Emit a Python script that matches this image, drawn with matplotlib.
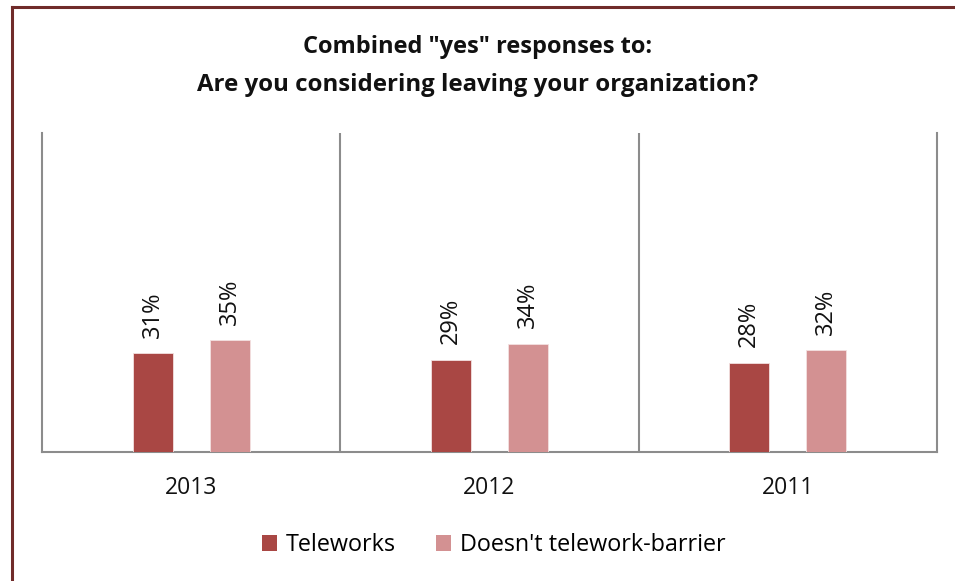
import matplotlib.pyplot as plt
from matplotlib.patches import Patch
from matplotlib.lines import Line2D
import numpy as np

plt.rcParams['font.family'] = ['Open Sans', 'DejaVu Sans']

years = ['2013', '2012', '2011']
series_names = ['Teleworks', "Doesn't telework-barrier"]
teleworks = [0.31, 0.29, 0.28]
no_telework = [0.35, 0.34, 0.32]
colors = ['#A94744', '#D39192']

fig = plt.figure(figsize=(9.55, 5.81), dpi=100)
ax = fig.add_axes([0.044, 0.222, 0.937, 0.549])

x = np.arange(len(years))
width = 0.134
offset = 0.129
for vals, sign, col in [(teleworks, -1, colors[0]), (no_telework, 1, colors[1])]:
    bars = ax.bar(x + sign * offset, vals, width, color=col,
                  edgecolor='#F3E1E0', linewidth=0.6, zorder=3)
    for b, v in zip(bars, vals):
        ax.annotate(f'{round(v * 100)}%', (b.get_x() + b.get_width() / 2, v),
                    xytext=(0, 11), textcoords='offset points',
                    rotation=90, ha='center', va='bottom', fontsize=17,
                    color='#111111')

ax.set_xlim(-0.5, len(years) - 0.5)
ax.set_ylim(0, 1.0)
ax.set_yticks([])
ax.set_xticks(x)
ax.set_xticklabels(years, fontsize=16.5)
ax.tick_params(axis='x', length=0, pad=17, colors='#111111')

grid_col = '#8C8C8C'
ax.spines['top'].set_visible(False)
for spine in ['left', 'right', 'bottom']:
    ax.spines[spine].set_color(grid_col)
    ax.spines[spine].set_linewidth(1.5)
for xv in x[:-1] + 0.5:
    ax.axvline(xv, color=grid_col, linewidth=1.5, zorder=1)

fig.text(0.5, 1 - 47 / 581, 'Combined "yes" responses to:', ha='center',
         va='center', fontsize=17, fontweight='bold', color='#111111')
fig.text(0.5, 1 - 85 / 581, 'Are you considering leaving your organization?',
         ha='center', va='center', fontsize=17.3, fontweight='bold', color='#111111')

handles = [Patch(facecolor=c, edgecolor='none') for c in colors]
fig.legend(handles, series_names, loc='center', bbox_to_anchor=(0.517, 1 - 545 / 581),
           ncol=2, frameon=False, fontsize=16.8, handlelength=0.65, handleheight=0.65,
           handletextpad=0.4, columnspacing=1.7)

# dark red frame around the chart
border = '#702B2A'
fig.add_artist(Line2D([12 / 955, 12 / 955], [0, 1 - 7 / 581], transform=fig.transFigure,
                      color=border, linewidth=2.2))
fig.add_artist(Line2D([12 / 955, 1], [1 - 7 / 581, 1 - 7 / 581], transform=fig.transFigure,
                      color=border, linewidth=2.2))

fig.savefig('out.png', dpi=100)
